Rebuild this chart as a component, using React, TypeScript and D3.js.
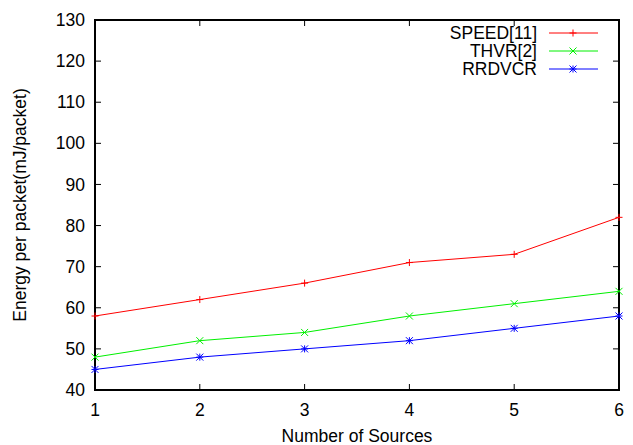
import React from "react";
import * as d3 from "d3";

const sources = [1, 2, 3, 4, 5, 6];
const speedVals = [58, 62, 66, 71, 73, 82];
const thvrVals = [48, 52, 54, 58, 61, 64];
const rrdvcrVals = [45, 48, 50, 52, 55, 58];
const yTicks = [40, 50, 60, 70, 80, 90, 100, 110, 120, 130];

const series = [
  { name: "SPEED[11]", values: speedVals, color: "#ff0000", mark: "plus" },
  { name: "THVR[2]", values: thvrVals, color: "#00f000", mark: "cross" },
  { name: "RRDVCR", values: rrdvcrVals, color: "#0000ff", mark: "star" },
];

const W = 633;
const H = 445;
const m = { left: 95, right: 14, top: 20, bottom: 55 };
const font = "'Liberation Sans', Arial, sans-serif";

const Marker = ({ x, y, type, color }: { x: number; y: number; type: string; color: string }) => {
  const s = 3.5;
  const plus = `M${x - s},${y}H${x + s}M${x},${y - s}V${y + s}`;
  const cross = `M${x - s},${y - s}L${x + s},${y + s}M${x - s},${y + s}L${x + s},${y - s}`;
  const d = type === "plus" ? plus : type === "cross" ? cross : plus + cross;
  return <path d={d} stroke={color} strokeWidth={1} fill="none" />;
};

export default function App() {
  const x = d3.scaleLinear().domain([1, 6]).range([m.left, W - m.right]);
  const y = d3.scaleLinear().domain([40, 130]).range([H - m.bottom, m.top]);
  const line = d3
    .line<number>()
    .x((_, i) => x(sources[i]))
    .y((d) => y(d));
  const x0 = m.left, x1 = W - m.right, y0 = H - m.bottom, y1 = m.top;
  const tl = 6;

  return (
    <svg width={W} height={H} style={{ position: "absolute", left: 0, top: 0 }} fontFamily={font}>
      <rect width={W} height={H} fill="white" />
      {/* ticks, mirrored on both sides like gnuplot */}
      {yTicks.map((t) => (
        <g key={"y" + t}>
          <line x1={x0} x2={x0 + tl} y1={y(t)} y2={y(t)} stroke="black" />
          <line x1={x1} x2={x1 - tl} y1={y(t)} y2={y(t)} stroke="black" />
          <text x={x0 - 10} y={y(t)} dy="0.35em" textAnchor="end" fontSize={17.5}>
            {t}
          </text>
        </g>
      ))}
      {sources.map((t) => (
        <g key={"x" + t}>
          <line x1={x(t)} x2={x(t)} y1={y0} y2={y0 - tl} stroke="black" />
          <line x1={x(t)} x2={x(t)} y1={y1} y2={y1 + tl} stroke="black" />
          <text x={x(t)} y={y0 + 26} textAnchor="middle" fontSize={17.5}>
            {t}
          </text>
        </g>
      ))}
      <rect x={x0} y={y1} width={x1 - x0} height={y0 - y1} fill="none" stroke="black" strokeWidth={2} />
      {/* series */}
      {series.map((s) => (
        <g key={s.name}>
          <path d={line(s.values) ?? ""} fill="none" stroke={s.color} strokeWidth={1} />
          {s.values.map((v, i) => (
            <Marker key={i} x={x(sources[i])} y={y(v)} type={s.mark} color={s.color} />
          ))}
        </g>
      ))}
      {/* legend */}
      {series.map((s, i) => {
        const ly = 33 + i * 18;
        return (
          <g key={"lg" + s.name}>
            <text x={537} y={ly} dy="0.35em" textAnchor="end" fontSize={17.5}>
              {s.name}
            </text>
            <line x1={549} x2={598} y1={ly} y2={ly} stroke={s.color} />
            <Marker x={573} y={ly} type={s.mark} color={s.color} />
          </g>
        );
      })}
      <text x={(x0 + x1) / 2} y={442} textAnchor="middle" fontSize={17.5}>
        Number of Sources
      </text>
      <text transform={`translate(26,${(y0 + y1) / 2}) rotate(-90)`} textAnchor="middle" fontSize={17.5}>
        Energy per packet(mJ/packet)
      </text>
    </svg>
  );
}
